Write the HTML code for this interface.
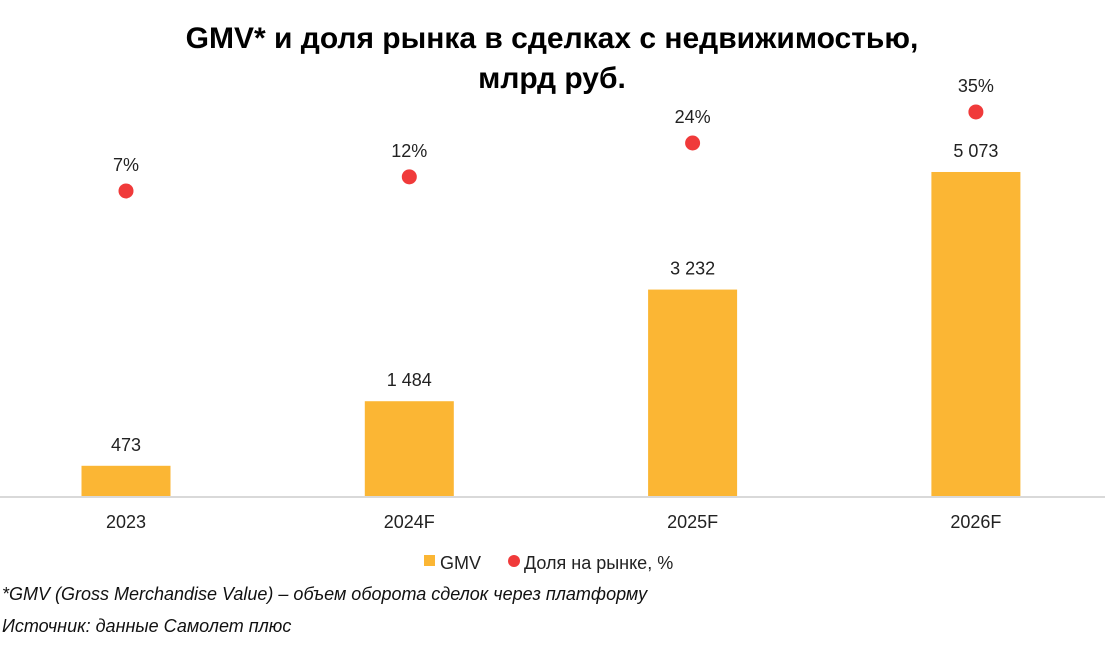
<!DOCTYPE html>
<html><head><meta charset="utf-8"><style>
body{margin:0;background:#fff;}
svg{display:block;font-family:"Liberation Sans","DejaVu Sans",sans-serif;}
</style></head><body>
<svg id="c" width="1105" height="648" viewBox="0 0 1105 648">
<text x="552" y="48" text-anchor="middle" font-size="30" font-weight="bold" fill="#000">GMV* и доля рынка в сделках с недвижимостью,</text>
<text x="552" y="88" text-anchor="middle" font-size="30" font-weight="bold" fill="#000">млрд руб.</text>
<line x1="0" y1="497" x2="1105" y2="497" stroke="#d9d9d9" stroke-width="2"/>
<g id="marks"></g>
<rect x="424" y="555" width="11" height="11" fill="#fbb634"/>
<text x="440" y="569" font-size="18" fill="#222">GMV</text>
<circle cx="514" cy="561" r="6" fill="#f03a3a"/>
<text x="524" y="569" font-size="18" fill="#222">Доля на рынке, %</text>
<text x="2" y="600" font-size="18" font-style="italic" fill="#111">*GMV (Gross Merchandise Value) – объем оборота сделок через платформу</text>
<text x="2" y="632" font-size="18" font-style="italic" fill="#111">Источник: данные Самолет плюс</text>
</svg>
<script>
const categories=["2023","2024F","2025F","2026F"];
const gmvValues=[473,1484,3232,5073];
const gmvLabels=["473","1 484","3 232","5 073"];
const shareValues=[7,12,24,35];
const NS="http://www.w3.org/2000/svg";
const g=document.getElementById("marks");
const x0=126,step=283.3,baseY=496,bw=89;
function xPos(i){return x0+i*step;}
function yGmv(v){return baseY-v*0.06387;}
function yShare(v){return 210.7-v*2.821;}
function mk(tag,attrs){const e=document.createElementNS(NS,tag);for(const k in attrs)e.setAttribute(k,attrs[k]);g.appendChild(e);return e;}
categories.forEach((c,i)=>{
 const cx=xPos(i),top=yGmv(gmvValues[i]);
 const r=mk("rect",{x:cx-bw/2,y:top,width:bw,height:baseY-top,fill:"#fbb634"});
 
 
 const t=mk("text",{x:cx,y:top-15,"text-anchor":"middle","font-size":18,fill:"#222"});t.textContent=gmvLabels[i];
 
 
 const sy=yShare(shareValues[i]);
 const d=mk("circle",{cx:cx,cy:sy,r:7.5,fill:"#f03a3a"});
 
 
 const st=mk("text",{x:cx,y:sy-20,"text-anchor":"middle","font-size":18,fill:"#222"});st.textContent=shareValues[i]+"%";
 
 
 const xl=mk("text",{x:cx,y:528,"text-anchor":"middle","font-size":18,fill:"#222"});xl.textContent=c;
 
 
});
</script>
</body></html>
